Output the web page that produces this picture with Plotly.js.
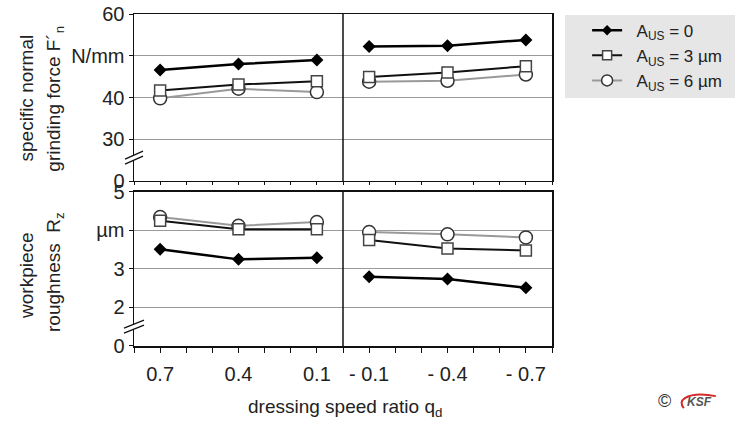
<!DOCTYPE html>
<html><head><meta charset="utf-8">
<script src="https://cdn.plot.ly/plotly-3.0.1.min.js"></script>
<style>html,body{margin:0;padding:0;background:#fff}</style>
</head><body><div id="chart" style="width:735px;height:421px"></div>
<script>
// ---- data ----
const qdLeft = [0.7, 0.4, 0.1];
const qdRight = [-0.1, -0.4, -0.7];
const qdTicks = [0.7, 0.4, 0.1, -0.1, -0.4, -0.7];
const qdTickLabels = ['0.7', '0.4', '0.1', '- 0.1', '- 0.4', '- 0.7'];
const seriesNames = ['A<sub>US</sub> = 0', 'A<sub>US</sub> = 3 µm', 'A<sub>US</sub> = 6 µm'];
// specific normal grinding force F'n (N/mm)
const force0Left = [46.6, 48.0, 49.0];
const force0Right = [52.2, 52.4, 53.8];
const force3Left = [41.7, 43.1, 43.9];
const force3Right = [44.9, 46.0, 47.5];
const force6Left = [39.8, 42.1, 41.3];
const force6Right = [43.8, 44.0, 45.5];
// workpiece roughness Rz (µm)
const rough0Left = [3.51, 3.25, 3.29];
const rough0Right = [2.80, 2.74, 2.51];
const rough3Left = [4.25, 4.03, 4.03];
const rough3Right = [3.75, 3.53, 3.48];
const rough6Left = [4.35, 4.12, 4.22];
const rough6Right = [3.96, 3.90, 3.82];
// axis ticks (broken axes: lowest tick is labelled 0)
const forceTicks = [20, 30, 40, 50, 60];
const forceTickLabels = ['0', '30', '40', 'N/mm', '60'];
const roughTicks = [1, 2, 3, 4, 5];
const roughTickLabels = ['0', '2', '3', 'µm', '5'];

// ---- styles ----
const FONT = '"Liberation Sans", Arial, sans-serif';
const TXT = '#222';
const styles = [
  {line: {color: '#000', width: 2.5}, marker: {symbol: 'diamond', size: 10, color: '#000'}},
  {line: {color: '#111', width: 2}, marker: {symbol: 'square', size: 11, color: '#fff', line: {color: '#444', width: 1.5}}},
  {line: {color: '#999', width: 2}, marker: {symbol: 'circle', size: 13, color: '#fff', line: {color: '#333', width: 1.5}}}
];

const traces = [];
function add(x, y, i, xa, ya) {
  traces.push({
    type: 'scatter', mode: 'lines+markers', x: x, y: y,
    xaxis: xa, yaxis: ya, name: seriesNames[i], legendgroup: 'g' + i,
    showlegend: false, line: styles[i].line, marker: styles[i].marker,
    hoverinfo: 'x+y'
  });
}
const forceL = [force0Left, force3Left, force6Left];
const forceR = [force0Right, force3Right, force6Right];
const roughL = [rough0Left, rough3Left, rough6Left];
const roughR = [rough0Right, rough3Right, rough6Right];
// draw order: circles first, then squares, then diamonds on top
[2, 1, 0].forEach(i => {
  add(qdLeft, forceL[i], i, 'x2', 'y2');
  add(qdRight, forceR[i], i, 'x2', 'y2');
  add(qdLeft, roughL[i], i, 'x', 'y');
  add(qdRight, roughR[i], i, 'x', 'y');
});
// legend entries in order 0, 3, 6 µm
const pad = '\u00a0\u00a0';
[0, 1, 2].forEach(i => {
  traces.push({type: 'scatter', mode: 'lines+markers', x: [null], y: [null], xaxis: 'x2', yaxis: 'y2',
    name: pad + seriesNames[i], legendgroup: 'g' + i, showlegend: true,
    line: styles[i].line, marker: Object.assign({}, styles[i].marker, {size: styles[i].marker.size - 2})});
});

const frame = {showline: true, mirror: true, linecolor: '#111', linewidth: 1.5, zeroline: false};
const tickf = {family: FONT, size: 20, color: TXT};
const xCommon = Object.assign({}, frame, {
  range: [0.8, -0.8], tickvals: qdTicks, ticktext: qdTickLabels, ticks: 'outside',
  tickcolor: '#111', showgrid: false, tickfont: tickf
});
const titleFont = {family: FONT, size: 19, color: TXT};
function ann(text, x, y, angle, font) {
  return {xref: 'paper', yref: 'paper', x: x, y: y, xanchor: 'center', yanchor: 'middle',
    textangle: angle, showarrow: false, text: text, font: font || titleFont};
}
const layout = {
  width: 735, height: 421,
  margin: {l: 134, r: 183, t: 14, b: 75, autoexpand: false},
  paper_bgcolor: '#fff', plot_bgcolor: '#fff',
  font: {family: FONT, color: TXT},
  showlegend: true,
  legend: {x: 1.084, y: 1.004, xanchor: 'left', yanchor: 'top', bgcolor: 'rgba(0,0,0,0)',
    font: {family: FONT, size: 17, color: TXT}, itemwidth: 30, tracegroupgap: 0},
  xaxis: Object.assign({}, xCommon, {anchor: 'y', domain: [0, 1], ticklen: 5, ticklabelstandoff: 4,
    minor: {dtick: 0.1, tick0: 0, ticks: 'outside', ticklen: 5, tickcolor: '#111', showgrid: false}}),
  xaxis2: Object.assign({}, xCommon, {anchor: 'y2', domain: [0, 1], matches: 'x', showticklabels: false, ticklen: 3,
    minor: {dtick: 0.1, tick0: 0, ticks: 'outside', ticklen: 3, tickcolor: '#111', showgrid: false}}),
  yaxis: Object.assign({}, frame, {anchor: 'x', domain: [0, 0.4639], range: [1, 5],
    tickvals: roughTicks, ticktext: roughTickLabels, ticks: 'outside', ticklen: 4, tickcolor: '#111',
    showgrid: true, gridcolor: '#9a9a9a', gridwidth: 1, tickfont: tickf}),
  yaxis2: Object.assign({}, frame, {anchor: 'x2', domain: [0.497, 1], range: [20, 60],
    tickvals: forceTicks, ticktext: forceTickLabels, ticks: 'outside', ticklen: 4, tickcolor: '#111',
    showgrid: true, gridcolor: '#9a9a9a', gridwidth: 1, tickfont: tickf}),
  shapes: [
    // legend background
    {type: 'rect', xref: 'paper', yref: 'paper', x0: 1.031, x1: 1.45, y0: 0.747, y1: 0.997,
      fillcolor: '#e6e6e6', line: {width: 0}, layer: 'below'},
    // panel dividers at q_d = 0
    {type: 'line', xref: 'x', yref: 'y domain', x0: 0, x1: 0, y0: 0, y1: 1, line: {color: '#111', width: 1.5}},
    {type: 'line', xref: 'x2', yref: 'y2 domain', x0: 0, x1: 0, y0: 0, y1: 1, line: {color: '#111', width: 1.5}},
    // axis break marks
    {type: 'path', xref: 'paper', yref: 'paper', xsizemode: 'pixel', ysizemode: 'pixel', xanchor: 0, yanchor: 0.566,
      path: 'M-9,-6 L9,2 L9,7 L-9,-1 Z', fillcolor: '#fff', line: {width: 0}},
    {type: 'path', xref: 'paper', yref: 'paper', xsizemode: 'pixel', ysizemode: 'pixel', xanchor: 0, yanchor: 0.566,
      path: 'M-9,-6 L9,2 M-9,-1 L9,7', line: {color: '#111', width: 1.3}},
    {type: 'path', xref: 'paper', yref: 'paper', xsizemode: 'pixel', ysizemode: 'pixel', xanchor: 0, yanchor: 0.057,
      path: 'M-10,-6 L10,2 L10,7 L-10,-1 Z', fillcolor: '#fff', line: {width: 0}},
    {type: 'path', xref: 'paper', yref: 'paper', xsizemode: 'pixel', ysizemode: 'pixel', xanchor: 0, yanchor: 0.057,
      path: 'M-10,-6 L10,2 M-10,-1 L10,7', line: {color: '#111', width: 1.3}},
    // logo swoosh
    {type: 'path', xref: 'paper', yref: 'paper', xsizemode: 'pixel', ysizemode: 'pixel', xanchor: 1.313, yanchor: -0.169,
      path: 'M33,6 Q12,10 2,4 Q-4,0 1,-6', line: {color: '#d42a2a', width: 2}}
  ],
  annotations: [
    ann('specific normal', -0.256, 0.7485, -90),
    ann('grinding force F´<sub>n</sub>', -0.189, 0.745, -90),
    ann('workpiece', -0.256, 0.214, -90),
    ann('roughness  R<sub>z</sub>', -0.189, 0.223, -90),
    ann('dressing speed ratio q<sub>d</sub>', 0.505, -0.187, 0),
    ann('©', 1.270, -0.166, 0, {family: FONT, size: 18, color: '#333'}),
    ann('<b><i>KSF</i></b>', 1.352, -0.169, 0, {family: FONT, size: 12, color: '#555'})
  ]
};
Plotly.newPlot('chart', traces, layout, {displayModeBar: false, staticPlot: true});
</script></body></html>
